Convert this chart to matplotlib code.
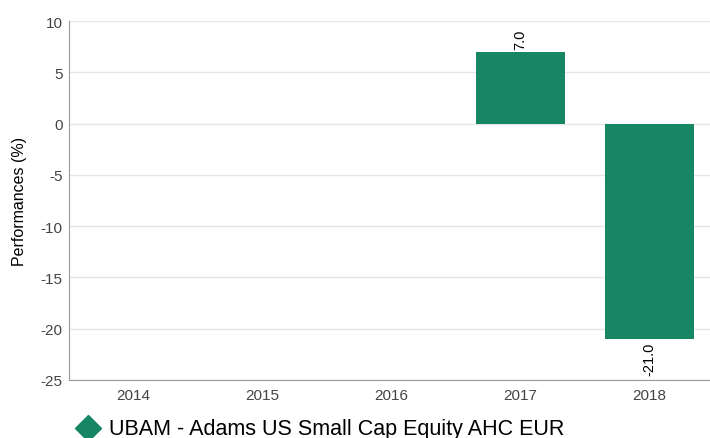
import matplotlib.pyplot as plt
from matplotlib.lines import Line2D

plt.rcParams['font.family'] = ['Liberation Sans', 'DejaVu Sans']
plt.rcParams['axes.unicode_minus'] = False

years = ['2014', '2015', '2016', '2017', '2018']
perf = [None, None, None, 7.0, -21.0]
series_name = 'UBAM - Adams US Small Cap Equity AHC EUR'
green = '#168664'

fig = plt.figure(figsize=(7.1, 4.39), dpi=100)
ax = fig.add_axes([69/710, 1 - 381/439, 645/710, (381 - 22)/439])

xs = [i for i, v in enumerate(perf) if v is not None]
vals = [v for v in perf if v is not None]
bars = ax.bar(xs, vals, width=0.69, color=green, zorder=3)

for x, v in zip(xs, vals):
    if v >= 0:
        ax.annotate(f'{v:.1f}', (x, v), xytext=(0, 2), textcoords='offset points',
                    rotation=90, ha='center', va='bottom', fontsize=10.5, color='black')
    else:
        ax.annotate(f'{v:.1f}', (x, v), xytext=(0, -2), textcoords='offset points',
                    rotation=90, ha='center', va='top', fontsize=10.5, color='black')

ax.set_xlim(-0.5, 4.5)
ax.set_ylim(-25, 10)
ax.set_xticks(range(len(years)))
ax.set_xticklabels(years)
ax.set_yticks(range(-25, 11, 5))
ax.grid(axis='y', color='#e6e6e6', linewidth=1, zorder=0)
ax.tick_params(length=0, labelsize=11, labelcolor='#444444')
ax.tick_params(axis='x', pad=6)
ax.tick_params(axis='y', pad=4.5)
for s in ['top', 'right']:
    ax.spines[s].set_visible(False)
ax.spines['left'].set_color('#999999')
ax.spines['bottom'].set_color('#999999')
ax.set_ylabel('Performances (%)', fontsize=11.5, color='black', labelpad=10)

# legend drawn by hand, partly cut by the bottom edge like the reference
fig.add_artist(Line2D([88/710], [1 - 429/439], marker='D', color=green,
                      markersize=13.5, linestyle='none', transform=fig.transFigure))
fig.text(109/710, 1 - 430/439, series_name, fontsize=15.5, color='black',
         ha='left', va='center')

fig.savefig('out.png', dpi=100)
